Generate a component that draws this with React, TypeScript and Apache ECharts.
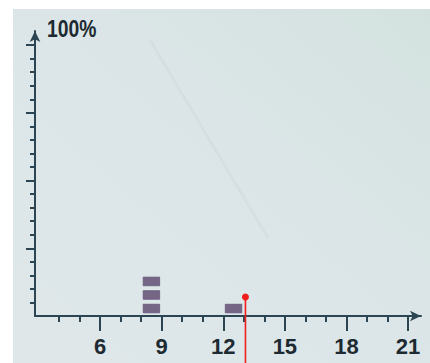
import React, { useEffect, useRef } from "react";
import * as echarts from "echarts";

// ---- data ----
const binCenters = [8.5, 12.5];
const binCounts = [3, 1];
const stackUnit = 5; // each box = 5 %
const markerValue = 13.08;
const markerTopPercent = 7;
const markerBottomPercent = -18;

const xMin = 2.83;
const xMax = 21.63;
const yMin = 0;
const yMax = 105.2;

const xMinorTicks = [4, 5, 6, 7, 8, 9, 10, 11, 12, 13, 14, 15, 16, 17, 18, 19, 20, 21];
const xMajorTicks = [6, 9, 12, 15, 18, 21];
const yMinorTicks = [5, 10, 15, 20, 25, 30, 35, 40, 45, 50, 55, 60, 65, 70, 75, 80, 85, 90, 95, 100];
const yMajorTicks = [25, 50, 75, 100];
const yName = "100%";

const AXIS = "#2c4552";
const TEXT = "#1d2a31";
const BOX = "#766685";
const RED = "#f01d1d";
const FONT = "'Liberation Sans', Arial, sans-serif";

export default function App() {
  const ref = useRef<HTMLDivElement>(null);
  useEffect(() => {
    if (!ref.current) return;
    const chart = echarts.init(ref.current, null, { renderer: "svg" });

    const boxes: number[][] = [];
    binCenters.forEach((c, i) => {
      for (let k = 0; k < binCounts[i]; k++) {
        boxes.push([c, k * stackUnit, (k + 1) * stackUnit]);
      }
    });

    const baseAxisLine = {
      show: true,
      onZero: false,
      lineStyle: { color: AXIS, width: 2 },
    };

    chart.setOption({
      animation: false,
      backgroundColor: "#ffffff",
      graphic: [
        {
          type: "rect",
          z: -10,
          shape: { x: 13, y: 9, width: 417, height: 354 },
          style: {
            fill: new echarts.graphic.LinearGradient(0, 1, 1, 0, [
              { offset: 0, color: "#dfe7e9" },
              { offset: 0.6, color: "#dbe5e7" },
              { offset: 1, color: "#d3e2df" },
            ]),
          },
        },
        {
          type: "line",
          z: -9,
          shape: { x1: 150, y1: 40, x2: 268, y2: 238 },
          style: { stroke: "rgba(140,155,160,0.07)", lineWidth: 3 },
        },
        {
          type: "text",
          z: 10,
          x: 47,
          y: 29,
          scaleX: 0.84,
          style: {
            text: yName,
            fontSize: 23,
            fontWeight: "bold",
            fontFamily: FONT,
            fill: TEXT,
            align: "left",
            verticalAlign: "middle",
          },
        },
      ],
      grid: { left: 35, right: 9, top: 31, bottom: 47, containLabel: false },
      xAxis: [
        {
          type: "value",
          min: xMin,
          max: xMax,
          position: "bottom",
          axisLine: { ...baseAxisLine, symbol: ["none", "arrow"], symbolSize: [8, 11] },
          axisTick: {
            show: true,
            customValues: xMinorTicks,
            length: 6,
            lineStyle: { color: AXIS, width: 2 },
          },
          axisLabel: { show: false },
          splitLine: { show: false },
        },
        {
          type: "value",
          min: xMin,
          max: xMax,
          position: "bottom",
          offset: 0,
          axisLine: { show: false, onZero: false },
          axisTick: {
            show: true,
            customValues: xMajorTicks,
            length: 15,
            lineStyle: { color: AXIS, width: 2 },
          },
          axisLabel: {
            show: true,
            customValues: xMajorTicks,
            margin: 19,
            fontSize: 22,
            fontWeight: "bold",
            fontFamily: FONT,
            color: TEXT,
          },
          splitLine: { show: false },
        },
      ],
      yAxis: [
        {
          type: "value",
          min: yMin,
          max: yMax,
          position: "left",
          axisLine: { ...baseAxisLine, symbol: ["none", "arrow"], symbolSize: [8, 11] },
          axisTick: {
            show: true,
            customValues: yMinorTicks,
            length: 5,
            lineStyle: { color: AXIS, width: 2 },
          },
          axisLabel: { show: false },
          splitLine: { show: false },
        },
        {
          type: "value",
          min: yMin,
          max: yMax,
          position: "left",
          offset: 0,
          axisLine: { show: false, onZero: false },
          axisTick: {
            show: true,
            customValues: yMajorTicks,
            length: 9,
            lineStyle: { color: AXIS, width: 2 },
          },
          axisLabel: { show: false },
          splitLine: { show: false },
        },
      ],
      series: [
        {
          type: "custom",
          xAxisIndex: 0,
          yAxisIndex: 0,
          data: boxes,
          encode: { x: 0, y: [1, 2] },
          renderItem: (params: any, api: any) => {
            const c = api.value(0);
            const y0 = api.value(1);
            const y1 = api.value(2);
            const tl = api.coord([c - 0.4, y1]);
            const br = api.coord([c + 0.4, y0]);
            return {
              type: "rect",
              shape: {
                x: tl[0],
                y: tl[1] + 1.8,
                width: br[0] - tl[0],
                height: br[1] - tl[1] - 5,
              },
              style: { fill: BOX, stroke: "#65567a", lineWidth: 0.8 },
            };
          },
        },
        {
          type: "line",
          xAxisIndex: 0,
          yAxisIndex: 0,
          clip: false,
          data: [
            { value: [markerValue, markerTopPercent], symbol: "circle", symbolSize: 7 },
            { value: [markerValue, markerBottomPercent], symbol: "none" },
          ],
          showSymbol: true,
          itemStyle: { color: RED },
          lineStyle: { color: RED, width: 1.6 },
          z: 5,
        },
      ],
    });
    return () => chart.dispose();
  }, []);
  return (
    <div
      ref={ref}
      style={{ position: "fixed", left: 0, top: 0, width: 430, height: 363 }}
    />
  );
}
